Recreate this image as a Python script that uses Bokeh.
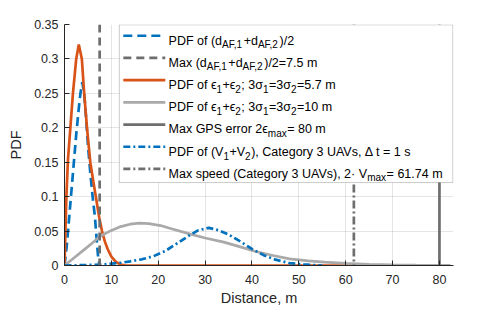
from bokeh.plotting import figure
from bokeh.models import Span, BoxAnnotation, Label, FixedTicker, Range1d
from bokeh.embed import file_html
from bokeh.resources import INLINE

# ---------------- data ----------------
x_daf = [0, 0.5, 1.0, 1.5, 2.0, 2.5, 3.0, 3.4, 3.8, 4.2, 4.6, 5.0, 5.5, 6.0, 6.5, 6.9, 7.2, 7.5]
pdf_daf = [0, 0.03, 0.07, 0.11, 0.15, 0.19, 0.225, 0.25, 0.266, 0.25, 0.215, 0.175, 0.135, 0.1, 0.07, 0.035, 0.01, 0]

x_eps57 = [0, 0.2, 0.4, 0.75, 1.25, 1.8, 2.5, 3.05, 3.7, 4.2, 4.8, 5.5, 6.2, 6.8, 7.4, 8.0, 8.6, 9.2, 10, 11, 12, 13, 82.3]
pdf_eps57 = [0, 0.05, 0.1, 0.155, 0.2, 0.25, 0.3, 0.321, 0.3, 0.25, 0.2, 0.15, 0.12, 0.095, 0.07, 0.05,
             0.035, 0.024, 0.013, 0.005, 0.0015, 0, 0]

x_eps10 = [0, 2, 4, 6, 7.6, 10, 12, 14, 16, 18, 20.5, 23, 26.7, 30, 34, 37.5, 41, 44.5, 48, 52, 55.5,
           60, 65, 70, 75, 82.3]
pdf_eps10 = [0, 0.011, 0.022, 0.033, 0.0425, 0.051, 0.0565, 0.06, 0.0615, 0.0608, 0.058, 0.053, 0.046,
             0.04, 0.034, 0.027, 0.02, 0.0145, 0.0097, 0.0068, 0.0048, 0.003, 0.0018, 0.001, 0.0006, 0.0003]

x_v = [0, 4, 8, 12, 14, 16.5, 19, 21.5, 24, 26.5, 28.5, 30.8, 33, 35, 37.5, 40, 42.5, 45, 48, 51, 53, 55]
pdf_v = [0, 0.0005, 0.0015, 0.004, 0.006, 0.009, 0.0135, 0.021, 0.032, 0.043, 0.051, 0.0547, 0.051,
         0.045, 0.035, 0.024, 0.015, 0.0085, 0.0035, 0.0015, 0.0007, 0]

max_daf = 7.5
max_gps = 80
max_speed = 61.74

x_ticks = [0, 10, 20, 30, 40, 50, 60, 70, 80]
y_ticks = [0, 0.05, 0.1, 0.15, 0.2, 0.25, 0.3, 0.35]
y_tick_labels = ["0", "0.05", "0.1", "0.15", "0.2", "0.25", "0.3", "0.35"]

legend_rows = [
    [("PDF of (d", 0), ("AF,1", 1), ("+d", 0), ("AF,2", 1), (")/2", 0)],
    [("Max (d", 0), ("AF,1", 1), ("+d", 0), ("AF,2", 1), (")/2=7.5 m", 0)],
    [("PDF of ϵ", 0), ("1", 1), ("+ϵ", 0), ("2", 1), ("; 3σ", 0), ("1", 1), ("=3σ", 0), ("2", 1), ("=5.7 m", 0)],
    [("PDF of ϵ", 0), ("1", 1), ("+ϵ", 0), ("2", 1), ("; 3σ", 0), ("1", 1), ("=3σ", 0), ("2", 1), ("=10 m", 0)],
    [("Max GPS error 2ϵ", 0), ("max", 1), ("= 80 m", 0)],
    [("PDF of (V", 0), ("1", 1), ("+V", 0), ("2", 1), ("), Category 3 UAVs, Δ t = 1 s", 0)],
    [("Max speed (Category 3 UAVs), 2· V", 0), ("max", 1), (" = 61.74 m", 0)],
]

# ---------------- styles ----------------
BLUE = "#0072BD"
ORANGE = "#D95319"
LGRAY = "#A9A9A9"
DGRAY = "#6E6E6E"
AX = "#262626"
FONT = "Liberation Sans"
LW = 2.7

p = figure(width=490, height=308, x_range=Range1d(0, 83.0), y_range=Range1d(0, 0.35),
           output_backend="svg", toolbar_location=None,
           min_border_left=64, min_border_right=37, min_border_top=24, min_border_bottom=43)
p.outline_line_color = None

for ax in (p.xaxis, p.yaxis):
    ax.axis_line_color = AX
    ax.major_tick_line_color = AX
    ax.major_tick_in = 5
    ax.major_tick_out = 0
    ax.minor_tick_line_color = None
    ax.major_label_text_font = FONT
    ax.major_label_text_font_size = "12.5px"
    ax.major_label_text_color = AX
    ax.axis_label_text_font = FONT
    ax.axis_label_text_font_size = "14.5px"
    ax.axis_label_text_font_style = "normal"
    ax.axis_label_text_color = AX

p.xaxis.ticker = FixedTicker(ticks=x_ticks)
p.yaxis.ticker = FixedTicker(ticks=y_ticks)
p.yaxis.major_label_overrides = {t: l for t, l in zip(y_ticks, y_tick_labels)}
p.xaxis.axis_label = "Distance, m"
p.yaxis.axis_label = "PDF"
p.xaxis.major_label_standoff = 9
p.yaxis.major_label_standoff = 6
p.xaxis.axis_label_standoff = 3
p.yaxis.axis_label_standoff = 7

p.xgrid.ticker = FixedTicker(ticks=x_ticks)
p.ygrid.ticker = FixedTicker(ticks=y_ticks)
for g in (p.xgrid, p.ygrid):
    g.grid_line_color = AX
    g.grid_line_alpha = 0.12

# ---------------- curves ----------------
p.line(x_daf, pdf_daf, line_color=BLUE, line_width=LW, line_dash="9 5")
p.add_layout(Span(location=max_daf, dimension="height", line_color=DGRAY, line_width=LW,
                  line_dash="8 5", level="glyph"))
p.line(x_eps57, pdf_eps57, line_color=ORANGE, line_width=LW)
p.line(x_eps10, pdf_eps10, line_color=LGRAY, line_width=LW)
p.add_layout(Span(location=max_gps, dimension="height", line_color=DGRAY, line_width=LW, level="glyph"))
p.line(x_v, pdf_v, line_color=BLUE, line_width=LW, line_dash="7 3 2 3")
p.add_layout(Span(location=max_speed, dimension="height", line_color=DGRAY, line_width=LW,
                  line_dash="8 3 2 3", level="glyph"))

# ---------------- legend (drawn by hand for sub-scripts) ----------------
PX_X = 389.0 / 83.0   # px per x unit
PX_Y = 241.0 / 0.35   # px per y unit
p.add_layout(BoxAnnotation(left=11.7, right=82.85, top=0.3495, bottom=0.1205, fill_color="white",
                           fill_alpha=1.0, line_color="#555555", line_width=1, level="annotation"))

styles = [
    dict(line_color=BLUE, line_dash="9 5"),
    dict(line_color=DGRAY, line_dash="8 5"),
    dict(line_color=ORANGE),
    dict(line_color=LGRAY),
    dict(line_color=DGRAY),
    dict(line_color=BLUE, line_dash="7 3 2 3"),
    dict(line_color=DGRAY, line_dash="7 3 2 3"),
]

W = {' ': 278, '(': 333, ')': 333, '+': 584, ',': 278, '.': 278, '/': 278, ';': 278, '=': 584,
     '·': 278, 'A': 667, 'C': 722, 'D': 722, 'F': 611, 'G': 778, 'M': 833, 'P': 667, 'S': 667,
     'U': 722, 'V': 667, 'a': 556, 'd': 556, 'e': 556, 'f': 278, 'g': 556, 'm': 833, 'o': 556,
     'p': 556, 'r': 333, 's': 500, 't': 278, 'x': 500, 'y': 500, 'ϵ': 440, 'σ': 617, 'Δ': 668}


def text_w(s, size):
    return sum(W.get(c, 556) for c in s) * size / 1000.0


MAIN = 12.5
SUB = 10
x_text = 22.2
x_s0, x_s1 = 12.55, 21.5
base0 = 0.3267
step = 22.2 / PX_Y

for i, row in enumerate(legend_rows):
    yb = base0 - i * step
    ys = yb + 4.8 / PX_Y
    p.line([x_s0, x_s1], [ys, ys], line_width=LW, level="overlay", **styles[i])
    off = 0.0
    for txt, sub in row:
        size = SUB if sub else MAIN
        p.add_layout(Label(x=x_text, y=yb - (4.0 / PX_Y if sub else 0), x_offset=off, text=txt,
                           text_font=FONT, text_font_size=f"{size}px", text_color="#000000",
                           text_baseline="alphabetic", text_align="left", level="overlay"))
        off += text_w(txt, size) + (0.5 if sub else 0.0)

open("out.html", "w").write(file_html(p, INLINE))
